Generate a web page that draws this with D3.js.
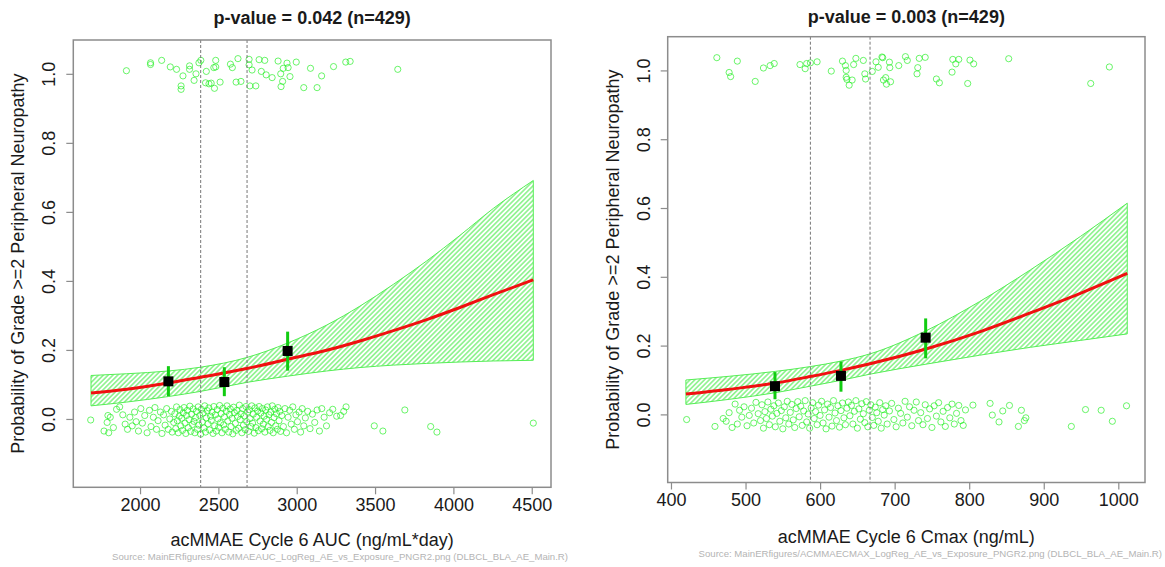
<!DOCTYPE html>
<html>
<head>
<meta charset="utf-8">
<script src="https://cdn.jsdelivr.net/npm/d3@7"></script>
<style>
  body { margin: 0; background: #fff; }
  svg { display: block; font-family: "Liberation Sans", Arial, sans-serif; }
</style>
</head>
<body>
<svg id="chart" width="1165" height="567"></svg>
<script>
// ---- data ----
const yTicks = [0, 0.2, 0.4, 0.6, 0.8, 1.0];
const yDomain = [-0.198, 1.098];
const yLabel = "Probability of Grade >=2 Peripheral Neuropathy";

// AUC panel
const aucTitle = "p-value = 0.042 (n=429)";
const aucXLabel = "acMMAE Cycle 6 AUC (ng/mL*day)";
const aucSource = "Source: MainERfigures/ACMMAEAUC_LogReg_AE_vs_Exposure_PNGR2.png (DLBCL_BLA_AE_Main.R)";
const aucTicks = [2000, 2500, 3000, 3500, 4000, 4500];
const aucCuts = [2387, 2683];
const aucFitX = [1687, 1915, 2181, 2387, 2681, 2942, 3191, 3404, 3617, 3830, 4042, 4255, 4510];
const aucFit = [0.075, 0.086, 0.104, 0.121, 0.146, 0.173, 0.199, 0.226, 0.256, 0.288, 0.323, 0.360, 0.403];
const aucUpper = [0.126, 0.131, 0.139, 0.150, 0.178, 0.220, 0.272, 0.327, 0.390, 0.458, 0.532, 0.610, 0.691];
const aucLower = [0.038, 0.049, 0.065, 0.080, 0.106, 0.124, 0.139, 0.149, 0.156, 0.161, 0.165, 0.168, 0.170];
const aucBinX = [2181, 2538, 2942];
const aucBinP = [0.109, 0.107, 0.197];
const aucBinLo = [0.066, 0.066, 0.140];
const aucBinHi = [0.153, 0.150, 0.253];
const aucEvents = [[1913,1.009],[2067,1.032],[2067,1.027],[2138,1.039],[2193,1.020],[2233,1.013],[2274,0.994],[2262,0.965],[2262,0.955],[2316,1.023],[2316,1.013],[2345,0.981],[2357,1.0],[2376,1.032],[2388,1.039],[2423,1.007],[2418,0.974],[2440,0.971],[2454,0.973],[2471,1.018],[2475,0.958],[2483,1.039],[2483,1.020],[2511,0.976],[2577,1.028],[2589,1.018],[2613,0.976],[2625,1.044],[2644,0.978],[2696,1.042],[2696,1.026],[2701,0.965],[2715,1.011],[2739,0.965],[2760,1.041],[2774,1.007],[2796,1.039],[2805,0.997],[2843,0.989],[2881,1.037],[2898,1.0],[2900,0.963],[2910,0.978],[2914,1.016],[2938,1.031],[2945,1.018],[2957,0.992],[2997,1.034],[3045,0.960],[3088,1.016],[3130,0.960],[3159,0.994],[3235,1.021],[3313,1.034],[3341,1.036],[3645,1.013]];
const aucNonEvents = [[1685,-0.003],[1770,-0.035],[1790,-0.01],[1795,0.01],[1800,-0.04],[1810,0.005],[1830,-0.025],[1850,0.028],[1870,0.035],[1890,0.012],[1905,-0.015],[1920,-0.03],[1935,0.005],[1950,-0.02],[1965,0.02],[1975,-0.008],[1990,-0.035],[2005,0.03],[2015,-0.012],[2030,0.01],
  [2045,-0.04],[2060,0.025],[2070,-0.022],[2085,0.005],[2095,0.033],[2105,-0.03],[2115,-0.005],[2130,0.02],[2140,-0.042],[2150,0.012],[2160,-0.018],[2170,0.03],[2180,-0.03],[2190,0.0],[2200,0.022],[2205,-0.038],[2215,-0.01],
  [2222,0.015],[2228,-0.028],[2233,0.035],[2238,-0.005],[2244,-0.04],[2250,0.008],[2255,0.027],[2260,-0.02],[2266,0.002],[2271,-0.033],[2276,0.018],[2281,0.033],[2287,-0.012],[2292,-0.042],[2297,0.01],[2302,0.025],[2308,-0.025],[2313,-0.002],[2318,0.037],[2323,-0.036],[2329,0.014],[2334,-0.016],[2339,0.029],[2344,-0.007],[2350,-0.04],[2355,0.004],[2360,0.022],[2366,-0.03],[2371,0.035],[2376,-0.018],[2381,0.01],[2387,-0.044],[2392,0.028],[2397,-0.009],[2402,0.017],[2408,-0.026],[2413,0.038],[2418,-0.038],[2423,0.003],[2429,0.024],[2434,-0.014],[2439,0.032],[2444,-0.032],[2450,0.008],[2455,-0.004],[2460,0.02],[2466,-0.042],[2471,0.036],[2476,-0.02],[2481,0.012],[2487,-0.035],[2492,0.027],[2497,0.0],[2502,-0.024],[2508,0.039],[2513,-0.011],[2518,0.016],[2523,-0.04],[2529,0.031],[2534,-0.017],[2539,0.006],[2544,-0.03],[2550,0.022],[2555,0.038],[2560,-0.006],[2566,-0.038],[2571,0.013],[2576,0.029],[2581,-0.022],[2587,0.002],[2592,-0.043],[2597,0.034],[2602,0.018],[2608,-0.013],[2613,-0.033],[2618,0.025],[2623,0.007],[2629,-0.027],[2634,0.04],[2639,-0.002],[2644,0.015],[2650,-0.04],[2655,0.03],[2660,-0.018],[2666,0.009],[2671,-0.031],[2676,0.036],[2681,-0.008],[2687,0.02],[2692,-0.036],[2697,0.027],[2702,0.001],[2708,-0.022],[2713,0.038],[2718,-0.012],[2723,0.014],[2729,-0.041],[2734,0.032],[2739,-0.025],[2744,0.005],[2750,0.023],[2755,-0.034],[2760,0.036],[2766,-0.006],[2771,0.017],[2776,-0.028],[2781,0.03],[2787,-0.015],[2792,0.008],[2797,-0.038],[2802,0.026],[2808,-0.001],[2813,0.035],[2818,-0.022],[2823,0.012],[2829,-0.033],[2834,0.02],[2839,-0.01],[2844,0.038],[2850,-0.04],[2855,0.004],[2860,0.028],[2866,-0.02],[2871,0.015],[2876,-0.03],[2881,0.033],[2887,-0.005],[2892,0.022],[2897,-0.036],
  [2905,0.01],[2915,-0.022],[2925,0.03],[2935,-0.04],[2945,0.005],[2955,0.025],[2965,-0.015],[2975,0.035],[2985,-0.03],[2995,0.012],[3005,-0.008],[3015,0.02],[3025,-0.038],[3035,0.03],[3045,-0.02],[3055,0.003],[3070,0.022],[3085,-0.028],[3100,0.014],[3115,-0.01],[3130,0.026],[3145,-0.035],[3160,0.03],[3175,0.005],[3190,-0.02],[3210,0.018],[3230,0.028],[3255,0.008],[3280,0.01],[3300,0.022],[3315,0.035],
  [3495,-0.02],[3550,-0.035],[3690,0.026],[3855,-0.022],[3895,-0.038],[4510,-0.012]];

// Cmax panel
const cmaxTitle = "p-value = 0.003 (n=429)";
const cmaxXLabel = "acMMAE Cycle 6 Cmax (ng/mL)";
const cmaxSource = "Source: MainERfigures/ACMMAECMAX_LogReg_AE_vs_Exposure_PNGR2.png (DLBCL_BLA_AE_Main.R)";
const cmaxTicks = [400, 500, 600, 700, 800, 900, 1000];
const cmaxCuts = [587, 667];
const cmaxFitX = [420, 479, 540, 587, 628, 667, 742, 814, 882, 949, 1012];
const cmaxFit = [0.059, 0.073, 0.091, 0.110, 0.128, 0.147, 0.190, 0.240, 0.295, 0.352, 0.410];
const cmaxUpper = [0.100, 0.111, 0.125, 0.139, 0.155, 0.176, 0.243, 0.328, 0.420, 0.517, 0.614];
const cmaxLower = [0.029, 0.044, 0.063, 0.082, 0.099, 0.117, 0.146, 0.172, 0.195, 0.215, 0.234];
const cmaxBinX = [539.5, 628, 741.6];
const cmaxBinP = [0.082, 0.112, 0.223];
const cmaxBinLo = [0.044, 0.066, 0.163];
const cmaxBinHi = [0.123, 0.154, 0.279];
const cmaxEvents = [[461.5,1.037],[478,0.994],[480,0.982],[489,1.027],[513,0.968],[524,1.007],[533,1.014],[538.5,1.020],[573,1.017],[580,1.005],[582,1.020],[587,1.022],[596,1.025],[615,0.998],[630,1.027],[634,1.014],[635,1.0],[635,0.980],[636,0.974],[639,0.957],[643,0.972],[645,1.017],[648,1.035],[658,1.029],[660,0.990],[661,0.975],[670,0.997],[675,1.025],[678,1.009],[683,1.039],[684,1.037],[685,0.972],[688,0.979],[689,0.960],[693,1.024],[693.5,1.008],[694.5,0.967],[705.5,1.014],[714.5,1.04],[717,1.029],[730,0.990],[731,1.008],[733,1.035],[741,1.038],[756,0.975],[760,0.964],[777,0.995],[778,1.032],[782,1.019],[786,1.032],[798,0.962],[801,1.030],[806,1.019],[853,1.034],[963,0.962],[988,1.010]];
const cmaxNonEvents = [[421,-0.015],[459,-0.035],[470,-0.012],[474,-0.02],[478,0.005],[482,-0.038],[486,0.03],[489,-0.028],[492,0.012],[495,-0.008],[498,0.022],[502,-0.033],[505,-0.003],[508,0.018],[511,-0.025],[514,0.035],[517,0.002],[520,-0.018],
  [522,0.028],[524,-0.04],[526,0.008],[528,-0.012],[530,0.036],[532,-0.03],[534,0.015],[536,-0.005],[538,0.025],[540,-0.036],[542,0.003],[544,0.033],[546,-0.02],[548,0.011],[550,-0.042],[552,0.022],[554,-0.01],[556,0.038],[558,-0.028],[560,0.006],[562,0.029],[564,-0.016],[566,-0.038],[568,0.017],[570,0.037],[572,-0.007],[574,0.024],[576,-0.032],[578,0.01],[580,0.04],[582,-0.022],[584,0.001],[586,-0.04],[588,0.019],[590,0.034],[592,-0.012],[594,0.008],[596,-0.03],[598,0.027],[600,-0.003],[602,0.038],[604,-0.025],[606,0.013],[608,-0.042],[610,0.03],[612,-0.008],[614,0.02],[616,-0.034],[618,0.04],[620,0.004],[622,-0.018],[624,0.025],[626,-0.037],[628,0.011],[630,0.033],[632,-0.01],[634,-0.03],[636,0.018],[638,0.036],[640,-0.004],[642,0.026],[644,-0.028],[646,0.009],[648,0.04],[650,-0.04],[652,0.016],[654,-0.014],[656,0.031],[658,0.002],[660,-0.024],[662,0.037],[664,-0.036],[666,0.012],[668,0.028],[670,-0.009],[672,-0.032],[674,0.021],[676,0.005],[678,-0.02],[680,0.034],[682,-0.04],[684,0.014],[686,-0.002],[688,0.025],[690,-0.028],[693,0.01],[696,0.032],[699,-0.015],[702,-0.036],[705,0.018],[708,0.003],[711,-0.025],[714,0.038],[717,-0.008],[720,0.022],[723,-0.033],[726,0.012],[729,0.036],[732,-0.018],[735,0.005],[738,-0.03],[741,0.028],[744,-0.012],[747,0.016],[750,-0.038],[753,0.025],[756,-0.005],[759,0.034],[762,-0.022],[765,0.009],[768,-0.035],[771,0.02],[774,-0.01],[777,0.03],[780,-0.028],[783,0.003],[786,0.026],[789,-0.018],[792,-0.032],[795,0.013],
  [805,0.027],[828,0.032],[831,-0.002],[840,-0.022],[845,0.01],[854,0.026],[866,-0.035],[870,0.012],[874,-0.018],[876,-0.01],[937,-0.035],[956,0.014],[977,0.012],[992,-0.02],[1011,0.025]];

// ---- layout ----
const panels = [
  { title: aucTitle, xLabel: aucXLabel, source: aucSource, ticks: aucTicks, cuts: aucCuts,
    fitX: aucFitX, fit: aucFit, upper: aucUpper, lower: aucLower,
    binX: aucBinX, binP: aucBinP, binLo: aucBinLo, binHi: aucBinHi,
    events: aucEvents, nonEvents: aucNonEvents,
    xDomain: [1574, 4623], left: 73.3, right: 551, top: 40, bottom: 487.3,
    titleY: 24, labelY: 546, sourceX: 568, sourceY: 560 },
  { title: cmaxTitle, xLabel: cmaxXLabel, source: cmaxSource, ticks: cmaxTicks, cuts: cmaxCuts,
    fitX: cmaxFitX, fit: cmaxFit, upper: cmaxUpper, lower: cmaxLower,
    binX: cmaxBinX, binP: cmaxBinP, binLo: cmaxBinLo, binHi: cmaxBinHi,
    events: cmaxEvents, nonEvents: cmaxNonEvents,
    xDomain: [395.6, 1035.8], left: 667.7, right: 1145, top: 36.7, bottom: 482.5,
    titleY: 22.5, labelY: 543, sourceX: 1162, sourceY: 557 }
];

const svg = d3.select("#chart");
svg.append("rect").attr("width", 1165).attr("height", 567).attr("fill", "#fff");

svg.append("defs").append("pattern")
    .attr("id", "hatch")
    .attr("patternUnits", "userSpaceOnUse")
    .attr("width", 3.4).attr("height", 3.4)
    .attr("patternTransform", "rotate(45)")
  .append("line")
    .attr("x1", 1.7).attr("y1", 0).attr("x2", 1.7).attr("y2", 3.4)
    .attr("stroke", "#33e833").attr("stroke-width", 0.9);

panels.forEach(drawPanel);

function drawPanel(p) {
    const x = d3.scaleLinear().domain(p.xDomain).range([p.left, p.right]);
    const y = d3.scaleLinear().domain(yDomain).range([p.bottom, p.top]);
    const g = svg.append("g");
    const cx = (p.left + p.right) / 2, cy = (p.top + p.bottom) / 2;

    // jittered observations
    const pts = p.events.concat(p.nonEvents);
    g.append("g")
        .selectAll("circle")
        .data(pts)
        .join("circle")
        .attr("cx", d => x(d[0]))
        .attr("cy", d => y(d[1]))
        .attr("r", 3.1)
        .attr("fill", "none")
        .attr("stroke", "#22ee22")
        .attr("stroke-opacity", 0.75)
        .attr("stroke-width", 0.9);

    // confidence band (hatched)
    const band = p.fitX.map((v, i) => ({ x: v, lo: p.lower[i], hi: p.upper[i], f: p.fit[i] }));
    g.append("path")
        .datum(band)
        .attr("fill", "url(#hatch)")
        .attr("stroke", "#55ee55")
        .attr("stroke-width", 1)
        .attr("d", d3.area()
            .x(d => x(d.x))
            .y0(d => y(d.lo))
            .y1(d => y(d.hi))
            .curve(d3.curveMonotoneX));

    // tertile cut lines
    g.append("g")
        .selectAll("line")
        .data(p.cuts)
        .join("line")
        .attr("x1", d => x(d)).attr("x2", d => x(d))
        .attr("y1", p.top).attr("y2", p.bottom)
        .attr("stroke", "#777")
        .attr("stroke-width", 1)
        .attr("stroke-dasharray", "3,2");

    // fitted curve
    g.append("path")
        .datum(band)
        .attr("fill", "none")
        .attr("stroke", "#f01010")
        .attr("stroke-width", 3)
        .attr("d", d3.line()
            .x(d => x(d.x))
            .y(d => y(d.f))
            .curve(d3.curveMonotoneX));

    // binned observed proportions
    const bins = p.binX.map((v, i) => ({ x: v, p: p.binP[i], lo: p.binLo[i], hi: p.binHi[i] }));
    g.append("g")
        .selectAll("line")
        .data(bins)
        .join("line")
        .attr("x1", d => x(d.x)).attr("x2", d => x(d.x))
        .attr("y1", d => y(d.lo)).attr("y2", d => y(d.hi))
        .attr("stroke", "#11cc11")
        .attr("stroke-width", 3);
    g.append("g")
        .selectAll("rect")
        .data(bins)
        .join("rect")
        .attr("x", d => x(d.x) - 5)
        .attr("y", d => y(d.p) - 5)
        .attr("width", 10).attr("height", 10)
        .attr("fill", "#000");

    // box
    g.append("rect")
        .attr("x", p.left).attr("y", p.top)
        .attr("width", p.right - p.left).attr("height", p.bottom - p.top)
        .attr("fill", "none")
        .attr("stroke", "#8c8c8c")
        .attr("stroke-width", 1.5);

    // x axis
    const xa = g.append("g")
        .attr("transform", `translate(0,${p.bottom})`)
        .call(d3.axisBottom(x).tickValues(p.ticks).tickSize(7).tickPadding(4).tickFormat(d3.format("d")));
    xa.select(".domain").remove();
    xa.selectAll("line").attr("stroke", "#8c8c8c").attr("stroke-width", 1.2);
    xa.selectAll("text")
        .attr("font-size", 18)
        .attr("font-family", "Liberation Sans, Arial, sans-serif")
        .attr("fill", "#1a1a1a");

    // y axis
    const ya = g.append("g")
        .attr("transform", `translate(${p.left},0)`)
        .call(d3.axisLeft(y).tickValues(yTicks).tickSize(7).tickFormat(d3.format(".1f")));
    ya.select(".domain").remove();
    ya.selectAll("line").attr("stroke", "#8c8c8c").attr("stroke-width", 1.2);
    ya.selectAll("text")
        .attr("x", null).attr("dy", null)
        .attr("text-anchor", "middle")
        .attr("transform", "translate(-18,0) rotate(-90)")
        .attr("font-size", 18)
        .attr("font-family", "Liberation Sans, Arial, sans-serif")
        .attr("fill", "#1a1a1a");

    // titles and labels
    g.append("text")
        .attr("x", cx).attr("y", p.titleY)
        .attr("text-anchor", "middle")
        .attr("font-size", 18).attr("font-weight", "bold")
        .attr("fill", "#1a1a1a")
        .text(p.title);
    g.append("text")
        .attr("x", cx).attr("y", p.labelY)
        .attr("text-anchor", "middle")
        .attr("font-size", 18)
        .attr("fill", "#1a1a1a")
        .text(p.xLabel);
    g.append("text")
        .attr("transform", `translate(${p.left - 49},${cy}) rotate(-90)`)
        .attr("text-anchor", "middle")
        .attr("font-size", 18)
        .attr("fill", "#1a1a1a")
        .text(yLabel);
    g.append("text")
        .attr("x", p.sourceX).attr("y", p.sourceY)
        .attr("text-anchor", "end")
        .attr("font-size", 9.6)
        .attr("fill", "#b4b4b4")
        .text(p.source);
}
</script>
</body>
</html>
